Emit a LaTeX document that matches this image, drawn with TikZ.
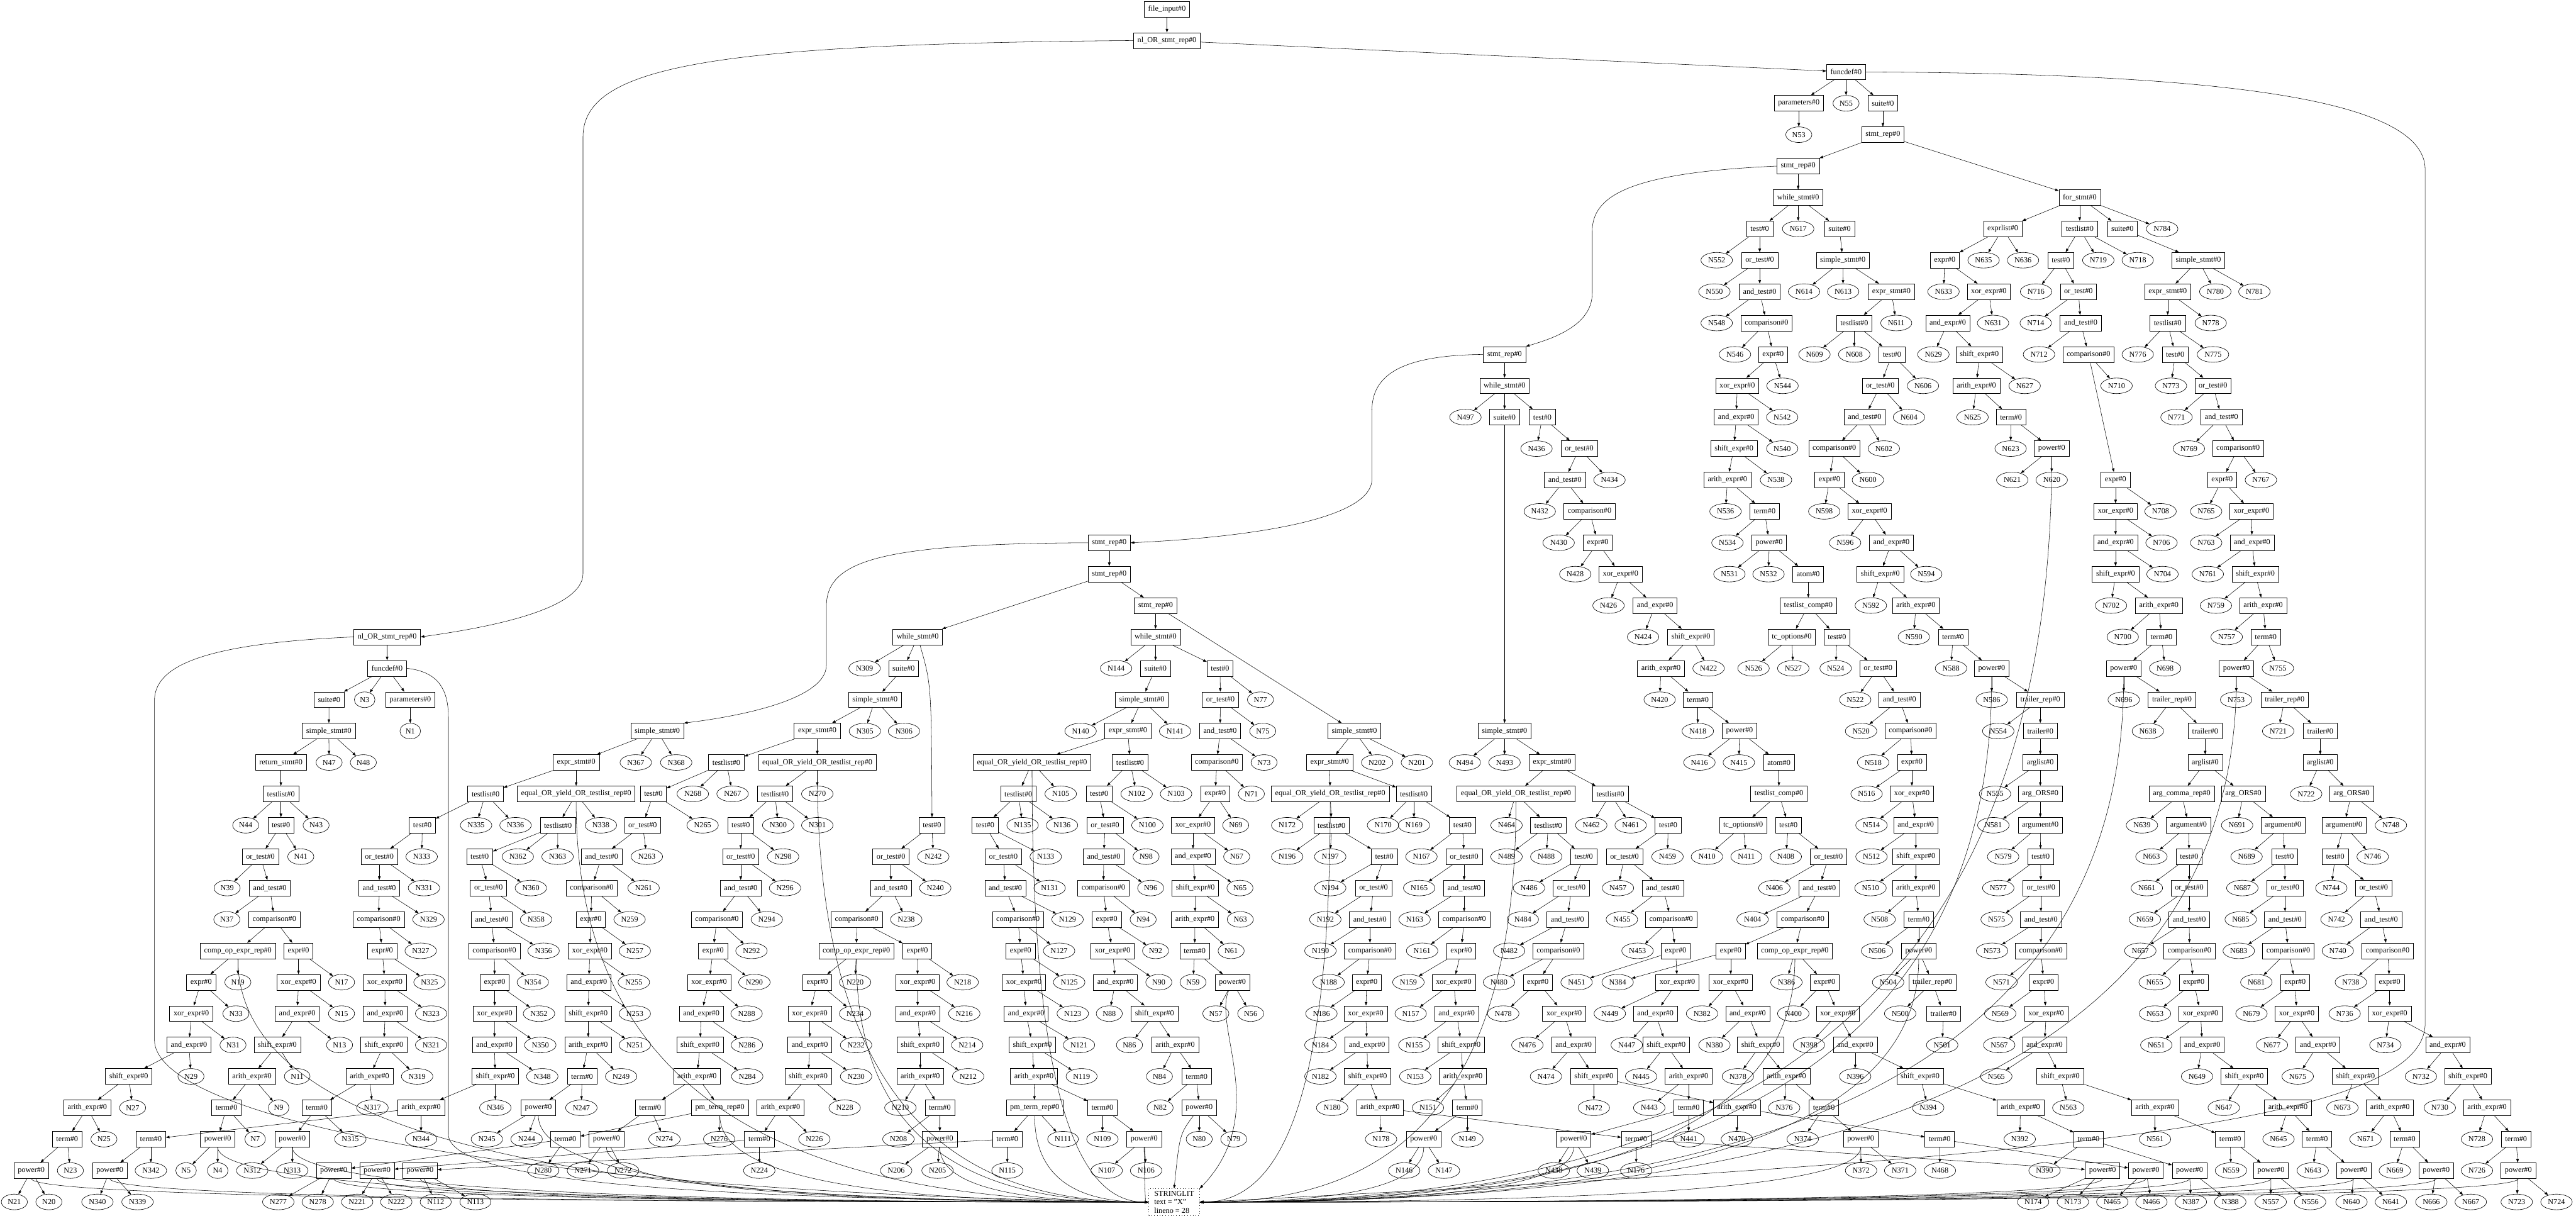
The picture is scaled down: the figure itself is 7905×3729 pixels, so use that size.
\documentclass[tikz,border=0pt]{standalone}
\usepackage{fontspec}
\setmainfont{Liberation Serif}
\usetikzlibrary{shapes.geometric,arrows.meta,calc}
\newcommand\treeFont{\fontsize{6.7}{7.4}\selectfont}
\newcommand\eqRep{equal\_OR\_yield\_OR\_testlist\_rep}
\tikzset{
  ruleBox/.style={draw, rectangle, line width=0.35pt, minimum height=0.48cm,
    inner xsep=0.12cm, inner ysep=0pt, font=\treeFont},
  tokLeaf/.style={draw, ellipse, line width=0.35pt, minimum height=0.48cm,
    inner xsep=0.08cm, inner ysep=0.02cm, font=\treeFont},
  litBox/.style={draw, rectangle, dotted, line width=0.4pt, align=left,
    inner xsep=0.17cm, inner ysep=0.07cm, font=\treeFont},
  treeEdge/.style={line width=0.3pt, -{Triangle[length=0.11cm,width=0.08cm]}}
}

\begin{document}
\begin{tikzpicture}[x=0.01cm,y=-0.01cm]
\useasboundingbox (0,0) rectangle (7905,3729);

% --- RULE NODES (name / x / rank / label) ---
\foreach \nm/\xx/\rr/\lb in {
  fileIn/3581/0/file\_input, nlA/3581/1/nl\_OR\_stmt\_rep, fdA/5665/2/funcdef,
  parA/5520/3/parameters, suiA/5778/3/suite, srA/5778/4/stmt\_rep, srB/5518/5/stmt\_rep,
  whA/5518/6/while\_stmt, forA/6382/6/for\_stmt,
  tsA/5400/7/test, suiB/5645/7/suite, exlA/6146/7/exprlist, tlB/6382/7/testlist, suiC/6513/7/suite,
  otA/5400/8/or\_test, ssA/5655/8/simple\_stmt, exE/5968/8/expr, tsE/6324/8/test, ssC/6746/8/simple\_stmt,
  atA/5400/9/and\_test, esA/5804/9/expr\_stmt, xoE/6103/9/xor\_expr, otE/6378/9/or\_test, esC/6652/9/expr\_stmt,
  cmA/5421/10/comparison, tlA/5690/10/testlist, anE/5977/10/and\_expr, atE/6385/10/and\_test, tlC/6652/10/testlist,
  srC/4617/11/stmt\_rep, exA/5441/11/expr, tsC/5806/11/test, shE/6074/11/shift\_expr, cmE/6409/11/comparison, tsG/6675/11/test,
  whB/4617/12/while\_stmt, xoA/5331/12/xor\_expr, otC/5770/12/or\_test, arE/6065/12/arith\_expr, otG/6791/12/or\_test,
  suiD/4617/13/suite, tsI/4733/13/test, anA/5328/13/and\_expr, atC/5722/13/and\_test, tmE/6171/13/term, atG/6817/13/and\_test,
  otI/4846/14/or\_test, shA/5321/14/shift\_expr, cmC/5629/14/comparison, pwE/6296/14/power, cmG/6868/14/comparison,
  atI/4802/15/and\_test, arA/5301/15/arith\_expr, exC/5614/15/expr, exF/6492/15/expr, exG/6819/15/expr,
  cmI/4878/16/comparison, tmA/5415/16/term, xoC/5737/16/xor\_expr, xoF/6492/16/xor\_expr, xoG/6909/16/xor\_expr,
  srD/3404/17/stmt\_rep, exI/4903/17/expr, pwA/5429/17/power, anC/5804/17/and\_expr, anF/6492/17/and\_expr, anG/6911/17/and\_expr,
  srE/3404/18/stmt\_rep, xoI/4973/18/xor\_expr, atmA/5549/18/atom, shC/5770/18/shift\_expr, shF/6492/18/shift\_expr, shG/6921/18/shift\_expr,
  srF/3546/19/stmt\_rep, anI/5079/19/and\_expr, tcA/5549/19/testlist\_comp, arC/5879/19/arith\_expr, arF/6625/19/arith\_expr, arG/6945/19/arith\_expr,
  nlB/1188/20/nl\_OR\_stmt\_rep, whC/2816/20/while\_stmt, whD/3546/20/while\_stmt, shI/5189/20/shift\_expr, tcoA/5498/20/tc\_options,
  tsB/5637/20/test, tmC/5993/20/term, tmF/6633/20/term, tmG/6953/20/term,
  fdB/1188/21/funcdef, suiF/2773/21/suite, suiG/3546/21/suite, tsU/3744/21/test, arI/5097/21/arith\_expr, otB/5763/21/or\_test,
  pwC/6112/21/power, pwF/6517/21/power, pwG/6863/21/power,
  suiE/1010/22/suite, parB/1259/22/parameters, ssH/2685/22/simple\_stmt, ssI/3504/22/simple\_stmt, otU/3745/22/or\_test,
  tmI/5210/22/term, atB/5829/22/and\_test, trrC/6261/22/trailer\_rep, trrF/6665/22/trailer\_rep, trrG/7011/22/trailer\_rep,
  ssF/1009/23/simple\_stmt, ssG/2017/23/simple\_stmt, esH/2508/23/expr\_stmt, esI/3461/23/expr\_stmt, atU/3744/23/and\_test,
  ssE/4156/23/simple\_stmt, ssD/4617/23/simple\_stmt, pwI/5338/23/power, cmB/5863/23/comparison, trC/6261/23/trailer,
  trF/6767/23/trailer, trG/7120/23/trailer,
  retA/862/24/return\_stmt, esG/1768/24/expr\_stmt, tlH/2229/24/testlist, eqH/2508/24/\eqRep, eqI/3167/24/\eqRep,
  tlI/3468/24/testlist, cmU/3734/24/comparison, esE/4080/24/expr\_stmt, esD/4763/24/expr\_stmt, atmI/5459/24/atom,
  exB/5867/24/expr, alC/6261/24/arglist, alF/6767/24/arglist, alG/7120/24/arglist,
  tlG/862/25/testlist, tlG2/1490/25/testlist, eqG/1768/25/\eqRep, tsH/2005/25/test, tlH2/2378/25/testlist,
  tlI2/3125/25/testlist, tsT/3373/25/test, exU/3729/25/expr, eqE/4082/25/\eqRep, tlF/4339/25/testlist,
  eqD/4652/25/\eqRep, tlD/4942/25/testlist, tcI/5459/25/testlist\_comp, xoB/5867/25/xor\_expr,
  aoC/6261/25/arg\_ORS, acF/6695/25/arg\_comma\_rep, aoF/6884/25/arg\_ORS, aoG/7216/25/arg\_ORS,
  tsN/862/26/test, tsP/1296/26/test, tlP/1712/26/testlist, otH/1972/26/or\_test, tsV/2273/26/test, tsR/2860/26/test,
  tsS/3023/26/test, otT/3391/26/or\_test, xoU/3661/26/xor\_expr, tlK/4086/26/testlist, tsW/4488/26/test,
  tlM/4751/26/testlist, tsL/5119/26/test, tcoI/5349/26/tc\_options, tsJ/5488/26/test, anB/5879/26/and\_expr,
  argC/6261/26/argument, argF1/6716/26/argument, argF2/7006/26/argument, argG/7193/26/argument,
  otN/799/27/or\_test, otP/1164/27/or\_test, tsQ/1472/27/test, atH/1846/27/and\_test, otV/2273/27/or\_test,
  otR/2734/27/or\_test, otS/3079/27/or\_test, atT/3387/27/and\_test, anU/3661/27/and\_expr, tsK/4248/27/test,
  otW/4493/27/or\_test, tsM/4860/27/test, otL/4985/27/or\_test, otJ/5611/27/or\_test, shB/5879/27/shift\_expr,
  tsD/6262/27/test, tsF1/6718/27/test, tsF2/7011/27/test, tsX/7166/27/test,
  atN/828/28/and\_test, atP/1164/28/and\_test, otQ/1499/28/or\_test, cmH/1816/28/comparison, atV/2273/28/and\_test,
  atR/2734/28/and\_test, atS/3085/28/and\_test, cmT/3386/28/comparison, shU/3668/28/shift\_expr, otK/4215/28/or\_test,
  atW/4493/28/and\_test, otM/4822/28/or\_test, atL/5103/28/and\_test, atJ/5583/28/and\_test, arB/5879/28/arith\_expr,
  otD/6263/28/or\_test, otF1/6718/28/or\_test, otF2/7012/28/or\_test, otX/7284/28/or\_test,
  cmN/842/29/comparison, cmP/1162/29/comparison, atQ/1509/29/and\_test, exH/1813/29/expr, cmV/2200/29/comparison,
  cmR/2629/29/comparison, cmS/3124/29/comparison, exT/3396/29/expr, arU/3667/29/arith\_expr, atK/4204/29/and\_test,
  cmW/4493/29/comparison, atM/4810/29/and\_test, cmL/5128/29/comparison, cmJ/5532/29/comparison, tmB/5888/29/term,
  atD/6263/29/and\_test, atF1/6718/29/and\_test, atF2/7012/29/and\_test, atX/7307/29/and\_test,
  coN/730/30/comp\_op\_expr\_rep, exN/916/30/expr, exP/1173/30/expr, cmQ/1517/30/comparison, xoH/1810/30/xor\_expr,
  exV/2188/30/expr, coR/2628/30/comp\_op\_expr\_rep, exR/2815/30/expr, exS/3132/30/expr, xoT/3414/30/xor\_expr,
  tmU/3666/30/term, cmK/4204/30/comparison, exW/4484/30/expr, cmM/4782/30/comparison, exL/5142/30/expr,
  exJ/5311/30/expr, coJ/5508/30/comp\_op\_expr\_rep, pwB/5888/30/power, cmD/6263/30/comparison,
  cmF1/6719/30/comparison, cmF2/7022/30/comparison, cmX/7327/30/comparison,
  exN2/617/31/expr, xoN/916/31/xor\_expr, xoP/1181/31/xor\_expr, exQ/1518/31/expr, anH/1807/31/and\_expr,
  xoV/2176/31/xor\_expr, exR2/2508/31/expr, xoR/2816/31/xor\_expr, xoS/3142/31/xor\_expr, anT/3423/31/and\_expr,
  pwU/3782/31/power, exK/4194/31/expr, xoW/4461/31/xor\_expr, exM/4719/31/expr, xoL/5147/31/xor\_expr,
  xoJ/5311/31/xor\_expr, exJ2/5599/31/expr, trrB/5930/31/trailer\_rep, exD/6271/31/expr, exF1/6732/31/expr,
  exF2/7043/31/expr, exX/7333/31/expr,
  xoN2/587/32/xor\_expr, anN/912/32/and\_expr, anP/1182/32/and\_expr, xoQ/1518/32/xor\_expr, shH/1805/32/shift\_expr,
  anV/2152/32/and\_expr, xoR2/2485/32/xor\_expr, anR/2816/32/and\_expr, anS/3149/32/and\_expr, shT/3543/32/shift\_expr,
  xoK/4191/32/xor\_expr, anW/4470/32/and\_expr, xoM/4800/32/xor\_expr, anL/5080/32/and\_expr, anJ/5363/32/and\_expr,
  xoJ2/5640/32/xor\_expr, trB/5964/32/trailer, xoD/6279/32/xor\_expr, xoF1/6753/32/xor\_expr, xoF2/7048/32/xor\_expr,
  xoX/7333/32/xor\_expr,
  anN2/580/33/and\_expr, shN/851/33/shift\_expr, shP/1178/33/shift\_expr, anQ/1517/33/and\_expr, arH/1805/33/arith\_expr,
  shV/2148/33/shift\_expr, anR2/2485/33/and\_expr, shR/2824/33/shift\_expr, shS/3168/33/shift\_expr, arT/3606/33/arith\_expr,
  anK/4195/33/and\_expr, shW/4484/33/shift\_expr, anM/4829/33/and\_expr, shL/5113/33/shift\_expr, shJ/5403/33/shift\_expr,
  anJ2/5693/33/and\_expr, anD/6274/33/and\_expr, anF1/6758/33/and\_expr, anF2/7113/33/and\_expr, anX/7511/33/and\_expr,
  shN2/395/34/shift\_expr, arN/773/34/arith\_expr, arP/1134/34/arith\_expr, shQ/1520/34/shift\_expr, tmH/1786/34/term,
  arV/2139/34/arith\_expr, shR2/2480/34/shift\_expr, arR/2824/34/arith\_expr, arS/3173/34/arith\_expr, tmT/3672/34/term,
  shK/4197/34/shift\_expr, arW/4489/34/arith\_expr, shM/4891/34/shift\_expr, arL/5182/34/arith\_expr, arJ/5482/34/arith\_expr,
  shJ2/5892/34/shift\_expr, shD/6322/34/shift\_expr, shF1/6887/34/shift\_expr, shF2/7228/34/shift\_expr, shX/7573/34/shift\_expr,
  arN2/268/35/arith\_expr, tmN/695/35/term, tmP/972/35/term, arQ/1292/35/arith\_expr, pwH/1652/35/power,
  tmV/1995/35/term, ptV/2209/35/pm\_term\_rep, arR2/2395/35/arith\_expr, tmR/2884/35/term, ptS/3175/35/pm\_term\_rep,
  tmS/3383/35/term, pwT/3680/35/power, arK/4235/35/arith\_expr, tmW/4503/35/term, tmL/5182/35/term,
  arM/5330/35/arith\_expr, tmJ/5597/35/term, arJ2/6200/35/arith\_expr, arD/6613/35/arith\_expr, arF1/7021/35/arith\_expr,
  arF2/7334/35/arith\_expr, arX/7632/35/arith\_expr,
  tmN2/206/36/term, tmQ/463/36/term, pwN/668/36/power, pwP/897/36/power, tmV2/1735/36/term, pwV/1861/36/power,
  tmR2/2330/36/term, pwR/2884/36/power, tmS2/3091/36/term, pwS/3511/36/power, pwW/4369/36/power, tmK/5021/36/term,
  pwL/4829/36/power, pwJ/5710/36/power, tmM/5952/36/term, tmJ2/6409/36/term, tmD/6844/36/term, tmF1/7110/36/term,
  tmF2/7379/36/term, tmX/7721/36/term,
  pwN2/96/37/power, pwQ/337/37/power, pwV2/1024/37/power, pwR2/1157/37/power, pwS2/1289/37/power,
  pwK/6452/37/power, pwM/6585/37/power, pwJ2/6719/37/power, pwD/6969/37/power, pwF1/7223/37/power,
  pwF2/7476/37/power, pwX/7728/37/power} {
  \pgfmathsetmacro\yy{28+96.3*\rr}
  \node[ruleBox] (\nm) at (\xx,\yy) {\lb\#0};
}

% --- TOKEN LEAVES (number / x / rank) ---
\foreach \nn/\xx/\rr in {
  55/5665/3, 53/5520/4, 617/5518/7, 784/6635/7,
  552/5268/8, 635/6087/8, 636/6208/8, 719/6439/8, 718/6560/8,
  550/5261/9, 614/5536/9, 613/5656/9, 633/5964/9, 716/6248/9, 780/6798/9, 781/6918/9,
  548/5268/10, 611/5819/10, 631/6116/10, 714/6247/10, 778/6784/10,
  546/5324/11, 609/5568/11, 608/5690/11, 629/5933/11, 712/6257/11, 776/6560/11, 775/6791/11,
  544/5470/12, 606/5901/12, 627/6213/12, 710/6495/12, 773/6662/12,
  497/4497/13, 542/5469/13, 604/5858/13, 625/6053/13, 771/6679/13,
  436/4715/14, 540/5469/14, 602/5781/14, 623/6170/14, 769/6717/14,
  434/4939/15, 538/5450/15, 600/5732/15, 621/6175/15, 620/6296/15, 767/6938/15,
  432/4725/16, 536/5295/16, 598/5598/16, 708/6630/16, 765/6770/16,
  430/4783/17, 534/5301/17, 596/5662/17, 706/6633/17, 763/6770/17,
  428/4834/18, 531/5307/18, 532/5427/18, 594/5911/18, 704/6636/18, 761/6775/18,
  426/4936/19, 592/5741/19, 702/6478/19, 759/6800/19,
  424/5042/20, 590/5873/20, 700/6514/20, 757/6833/20,
  309/2653/21, 144/3425/21, 422/5243/21, 526/5381/21, 527/5503/21, 524/5633/21, 588/5987/21, 698/6644/21, 755/6990/21,
  3/1119/22, 77/3868/22, 420/5093/22, 522/5693/22, 586/6112/22, 696/6517/22, 753/6862/22,
  1/1259/23, 305/2654/23, 306/2774/23, 140/3316/23, 141/3606/23, 75/3875/23, 418/5210/23, 520/5711/23,
  554/6132/23, 638/6591/23, 721/6991/23,
  47/1010/24, 48/1115/24, 367/1951/24, 368/2075/24, 73/3879/24, 202/4226/24, 201/4348/24, 494/4495/24,
  493/4617/24, 416/5215/24, 415/5336/24, 518/5748/24,
  268/2126/25, 267/2248/25, 270/2508/25, 105/3255/25, 102/3488/25, 103/3609/25, 71/3840/25, 516/5728/25,
  555/6122/25, 722/7077/25,
  44/754/26, 43/970/26, 335/1461/26, 336/1582/26, 338/1844/26, 265/2156/26, 300/2388/26, 301/2508/26,
  135/3138/26, 136/3259/26, 100/3521/26, 69/3792/26, 172/3950/26, 170/4244/26, 169/4339/26, 464/4623/26,
  462/4883/26, 461/5004/26, 514/5743/26, 581/6117/26, 639/6573/26, 691/6865/26, 748/7337/26,
  41/923/27, 333/1294/27, 362/1589/27, 363/1711/27, 263/1985/27, 298/2403/27, 242/2864/27, 133/3209/27,
  98/3517/27, 67/3795/27, 196/3950/27, 197/4082/27, 167/4362/27, 489/4623/27, 488/4745/27, 459/5117/27,
  410/5238/27, 411/5359/27, 408/5480/27, 512/5743/27, 579/6147/27, 663/6602/27, 689/6894/27, 746/7281/27,
  39/697/28, 331/1301/28, 360/1629/28, 261/1975/28, 296/2409/28, 240/2870/28, 131/3221/28, 96/3531/28,
  65/3805/28, 194/4082/28, 165/4355/28, 486/4692/28, 457/4965/28, 406/5445/28, 510/5740/28, 577/6132/28,
  661/6588/28, 687/6881/28, 744/7154/28,
  37/696/29, 329/1315/29, 358/1645/29, 259/1932/29, 294/2353/29, 238/2781/29, 129/3276/29, 94/3508/29,
  63/3806/29, 192/4067/29, 163/4341/29, 484/4673/29, 455/4977/29, 404/5378/29, 508/5768/29, 575/6127/29,
  659/6582/29, 685/6876/29, 742/7170/29,
  327/1291/30, 356/1668/30, 257/1948/30, 292/2306/30, 127/3250/30, 92/3546/30, 61/3778/30, 190/4052/30,
  161/4364/30, 482/4631/30, 453/5025/30, 506/5760/30, 573/6113/30, 657/6568/30, 683/6870/30, 740/7174/30,
  19/730/31, 17/1048/31, 325/1318/31, 354/1635/31, 255/1945/31, 290/2315/31, 220/2624/31, 218/2954/31,
  125/3281/31, 90/3556/31, 59/3661/31, 188/4077/31, 159/4322/31, 480/4600/31, 451/4838/31, 384/4964/31,
  386/5482/31, 504/5794/31, 571/6142/31, 655/6612/31, 681/6924/31, 738/7214/31,
  33/724/32, 15/1048/32, 323/1323/32, 352/1654/32, 253/1948/32, 288/2291/32, 234/2624/32, 216/2959/32,
  123/3292/32, 88/3404/32, 57/3731/32, 56/3838/32, 186/4055/32, 157/4329/32, 478/4613/32, 449/4940/32,
  382/5223/32, 400/5503/32, 500/5831/32, 569/6138/32, 653/6613/32, 679/6909/32, 736/7195/32,
  31/715/33, 13/1042/33, 321/1323/33, 350/1658/33, 251/1948/33, 286/2292/33, 232/2627/33, 214/2968/33,
  121/3311/33, 86/3466/33, 184/4052/33, 155/4340/33, 476/4687/33, 447/4992/33, 380/5261/33, 398/5551/33,
  501/5960/33, 567/6135/33, 651/6617/33, 677/6972/33, 734/7320/33,
  29/586/34, 11/912/34, 319/1280/34, 348/1664/34, 249/1906/34, 284/2293/34, 230/2627/34, 212/2971/34,
  119/3319/34, 84/3558/34, 182/4052/34, 153/4343/34, 474/4744/34, 445/5036/34, 378/5333/34, 396/5693/34,
  565/6126/34, 649/6742/34, 675/7051/34, 732/7429/34,
  27/407/35, 9/855/35, 317/1143/35, 346/1520/35, 247/1784/35, 228/2592/35, 210/2763/35, 82/3560/35,
  180/4088/35, 151/4382/35, 472/4891/35, 443/5061/35, 376/5475/35, 394/5917/35, 563/6347/35, 647/6824/35,
  673/7188/35, 730/7487/35,
  25/319/36, 7/783/36, 315/1075/36, 344/1292/36, 245/1494/36, 244/1616/36, 274/2039/36, 276/2207/36,
  226/2499/36, 208/2757/36, 111/3262/36, 109/3383/36, 80/3680/36, 79/3786/36, 178/4238/36, 149/4503/36,
  441/5182/36, 470/5330/36, 374/5532/36, 392/6198/36, 561/6613/36, 645/6992/36, 671/7259/36, 728/7601/36,
  23/216/37, 342/463/37, 5/571/37, 4/668/37, 312/774/37, 313/897/37, 280/1667/37, 271/1789/37, 272/1912/37,
  224/2330/37, 206/2750/37, 205/2877/37, 115/3091/37, 107/3396/37, 106/3517/37, 146/4309/37, 147/4431/37,
  438/4768/37, 439/4888/37, 176/5021/37, 372/5711/37, 371/5831/37, 468/5953/37, 390/6274/37, 559/6846/37,
  643/7097/37, 669/7349/37, 726/7601/37,
  21/44/38, 20/150/38, 340/299/38, 339/422/38, 277/854/38, 278/975/38, 221/1096/38, 222/1216/38,
  112/1337/38, 113/1459/38, 174/6239/38, 173/6361/38, 465/6482/38, 466/6602/38, 387/6723/38, 388/6844/38,
  557/6968/38, 556/7089/38, 640/7216/38, 641/7337/38, 666/7461/38, 667/7582/38, 723/7723/38, 724/7845/38} {
  \pgfmathsetmacro\yy{28+96.3*\rr}
  \node[tokLeaf] (n\nn) at (\xx,\yy) {N\nn};
}

% --- SHARED LITERAL ---
\node[litBox] (STR) at (3603,3688) {STRINGLIT\\text = "X"\\lineno = 28};

% --- TREE EDGES ---
\foreach \pa/\ch in {
  fileIn/nlA, nlA/fdA, fdA/parA, fdA/n55, fdA/suiA, parA/n53, suiA/srA, srA/srB, srA/forA, srB/whA,
  whA/tsA, whA/n617, whA/suiB,
  tsA/n552, tsA/otA, otA/n550, otA/atA, atA/n548, atA/cmA, cmA/n546, cmA/exA, exA/xoA, exA/n544,
  xoA/anA, xoA/n542, anA/shA, anA/n540, shA/arA, shA/n538, arA/n536, arA/tmA, tmA/n534, tmA/pwA,
  pwA/n531, pwA/n532, pwA/atmA, atmA/tcA, tcA/tcoA, tcA/tsB, tcoA/n526, tcoA/n527, tsB/n524, tsB/otB,
  otB/n522, otB/atB, atB/n520, atB/cmB, cmB/n518, cmB/exB, exB/n516, exB/xoB, xoB/n514, xoB/anB,
  anB/n512, anB/shB, shB/n510, shB/arB, arB/n508, arB/tmB, tmB/n506, tmB/pwB, pwB/n504, pwB/trrB,
  trrB/n500, trrB/trB, trB/n501,
  suiB/ssA, ssA/n614, ssA/n613, ssA/esA, esA/tlA, esA/n611, tlA/n609, tlA/n608, tlA/tsC, tsC/otC, tsC/n606,
  otC/atC, otC/n604, atC/cmC, atC/n602, cmC/exC, cmC/n600, exC/n598, exC/xoC, xoC/n596, xoC/anC,
  anC/shC, anC/n594, shC/n592, shC/arC, arC/n590, arC/tmC, tmC/n588, tmC/pwC, pwC/n586, pwC/trrC,
  trrC/n554, trrC/trC, trC/alC, alC/n555, alC/aoC, aoC/n581, aoC/argC, argC/n579, argC/tsD,
  tsD/n577, tsD/otD, otD/n575, otD/atD, atD/n573, atD/cmD, cmD/n571, cmD/exD, exD/n569, exD/xoD,
  xoD/n567, xoD/anD, anD/n565, anD/shD, shD/n563, shD/arD, arD/n561, arD/tmD, tmD/n559, tmD/pwD,
  pwD/n557, pwD/n556,
  forA/exlA, forA/tlB, forA/suiC, forA/n784, exlA/exE, exlA/n635, exlA/n636, exE/n633, exE/xoE,
  xoE/anE, xoE/n631, anE/n629, anE/shE, shE/arE, shE/n627, arE/n625, arE/tmE, tmE/n623, tmE/pwE,
  pwE/n621, pwE/n620,
  tlB/tsE, tlB/n719, tlB/n718, tsE/n716, tsE/otE, otE/n714, otE/atE, atE/n712, atE/cmE, cmE/exF, cmE/n710,
  exF/xoF, exF/n708, xoF/anF, xoF/n706, anF/shF, anF/n704, shF/n702, shF/arF, arF/n700, arF/tmF,
  tmF/pwF, tmF/n698, pwF/n696, pwF/trrF, trrF/n638, trrF/trF, trF/alF, alF/acF, alF/aoF,
  acF/n639, acF/argF1, aoF/n691, aoF/argF2,
  argF1/n663, argF1/tsF1, tsF1/n661, tsF1/otF1, otF1/n659, otF1/atF1, atF1/n657, atF1/cmF1,
  cmF1/n655, cmF1/exF1, exF1/n653, exF1/xoF1, xoF1/n651, xoF1/anF1, anF1/n649, anF1/shF1,
  shF1/n647, shF1/arF1, arF1/n645, arF1/tmF1, tmF1/n643, tmF1/pwF1, pwF1/n640, pwF1/n641,
  argF2/n689, argF2/tsF2, tsF2/n687, tsF2/otF2, otF2/n685, otF2/atF2, atF2/n683, atF2/cmF2,
  cmF2/n681, cmF2/exF2, exF2/n679, exF2/xoF2, xoF2/n677, xoF2/anF2, anF2/n675, anF2/shF2,
  shF2/n673, shF2/arF2, arF2/n671, arF2/tmF2, tmF2/n669, tmF2/pwF2, pwF2/n666, pwF2/n667,
  suiC/ssC, ssC/esC, ssC/n780, ssC/n781, esC/tlC, esC/n778, tlC/n776, tlC/tsG, tlC/n775, tsG/n773, tsG/otG,
  otG/n771, otG/atG, atG/n769, atG/cmG, cmG/exG, cmG/n767, exG/n765, exG/xoG, xoG/n763, xoG/anG,
  anG/n761, anG/shG, shG/n759, shG/arG, arG/n757, arG/tmG, tmG/pwG, tmG/n755, pwG/n753, pwG/trrG,
  trrG/n721, trrG/trG, trG/alG, alG/n722, alG/aoG, aoG/argG, aoG/n748, argG/tsX, argG/n746,
  tsX/n744, tsX/otX, otX/n742, otX/atX, atX/n740, atX/cmX, cmX/n738, cmX/exX, exX/n736, exX/xoX,
  xoX/n734, xoX/anX, anX/n732, anX/shX, shX/n730, shX/arX, arX/n728, arX/tmX, tmX/n726, tmX/pwX,
  pwX/n723, pwX/n724,
  srC/whB, whB/n497, whB/suiD, whB/tsI, tsI/n436, tsI/otI, otI/atI, otI/n434, atI/n432, atI/cmI,
  cmI/n430, cmI/exI, exI/n428, exI/xoI, xoI/n426, xoI/anI, anI/n424, anI/shI, shI/arI, shI/n422,
  arI/n420, arI/tmI, tmI/n418, tmI/pwI, pwI/n416, pwI/n415, pwI/atmI, atmI/tcI, tcI/tcoI, tcI/tsJ,
  tcoI/n410, tcoI/n411, tsJ/n408, tsJ/otJ, otJ/n406, otJ/atJ, atJ/n404, atJ/cmJ, cmJ/exJ, cmJ/coJ,
  exJ/n384, exJ/xoJ, xoJ/n382, xoJ/anJ, anJ/n380, anJ/shJ, shJ/n378, shJ/arJ, arJ/n376, arJ/tmJ,
  tmJ/n374, tmJ/pwJ, pwJ/n372, pwJ/n371, coJ/n386, coJ/exJ2, exJ2/n400, exJ2/xoJ2, xoJ2/n398, xoJ2/anJ2,
  anJ2/n396, anJ2/shJ2, shJ2/n394, shJ2/arJ2, arJ2/n392, arJ2/tmJ2, tmJ2/n390, tmJ2/pwJ2, pwJ2/n387, pwJ2/n388,
  suiD/ssD, ssD/n494, ssD/n493, ssD/esD, esD/eqD, esD/tlD, eqD/n464, eqD/tlM, tlM/n489, tlM/n488, tlM/tsM,
  tsM/n486, tsM/otM, otM/n484, otM/atM, atM/n482, atM/cmM, cmM/n480, cmM/exM, exM/n478, exM/xoM,
  xoM/n476, xoM/anM, anM/n474, anM/shM, shM/n472, shM/arM, arM/n470, arM/tmM, tmM/n468, tmM/pwM,
  pwM/n465, pwM/n466,
  tlD/n462, tlD/n461, tlD/tsL, tsL/otL, tsL/n459, otL/n457, otL/atL, atL/n455, atL/cmL, cmL/n453, cmL/exL,
  exL/n451, exL/xoL, xoL/n449, xoL/anL, anL/n447, anL/shL, shL/n445, shL/arL, arL/n443, arL/tmL,
  tmL/n441, tmL/pwL, pwL/n438, pwL/n439,
  srD/srE, srE/whC, srE/srF, srF/whD, srF/ssE, whC/n309, whC/suiF, suiF/ssH, ssH/esH, ssH/n305, ssH/n306,
  esH/tlH, esH/eqH, tlH/tsH, tlH/n268, tlH/n267, eqH/tlH2, eqH/n270, tsH/otH, tsH/n265, otH/atH, otH/n263,
  atH/cmH, atH/n261, cmH/exH, cmH/n259, exH/xoH, exH/n257, xoH/anH, xoH/n255, anH/shH, anH/n253,
  shH/arH, shH/n251, arH/tmH, arH/n249, tmH/pwH, tmH/n247, pwH/n245, pwH/n244,
  tlH2/tsV, tlH2/n300, tlH2/n301, tsV/otV, tsV/n298, otV/atV, otV/n296, atV/cmV, atV/n294, cmV/exV, cmV/n292,
  exV/xoV, exV/n290, xoV/anV, xoV/n288, anV/shV, anV/n286, shV/arV, shV/n284, arV/tmV, arV/ptV,
  tmV/pwV, tmV/n274, pwV/n271, pwV/n272, ptV/tmV2, ptV/n276, tmV2/n280, tmV2/pwV2, pwV2/n277, pwV2/n278,
  tsR/otR, tsR/n242, otR/atR, otR/n240, atR/cmR, atR/n238, cmR/coR, cmR/exR, coR/exR2, coR/n220,
  exR2/xoR2, exR2/n234, xoR2/anR2, xoR2/n232, anR2/shR2, anR2/n230, shR2/arR2, shR2/n228, arR2/tmR2, arR2/n226,
  tmR2/pwR2, tmR2/n224, pwR2/n221, pwR2/n222, exR/xoR, exR/n218, xoR/anR, xoR/n216, anR/shR, anR/n214,
  shR/arR, shR/n212, arR/n210, arR/tmR, tmR/n208, tmR/pwR, pwR/n206, pwR/n205,
  whD/n144, whD/suiG, whD/tsU, suiG/ssI, ssI/n140, ssI/esI, ssI/n141, esI/eqI, esI/tlI, eqI/tlI2, eqI/n105,
  tlI2/tsS, tlI2/n135, tlI2/n136, tsS/otS, tsS/n133, otS/atS, otS/n131, atS/cmS, atS/n129, cmS/exS, cmS/n127,
  exS/xoS, exS/n125, xoS/anS, xoS/n123, anS/shS, anS/n121, shS/arS, shS/n119, arS/ptS, arS/tmS,
  ptS/tmS2, ptS/n111, tmS2/n115, tmS2/pwS2, pwS2/n112, pwS2/n113, tmS/n109, tmS/pwS, pwS/n107, pwS/n106,
  tlI/tsT, tlI/n102, tlI/n103, tsT/otT, tsT/n100, otT/atT, otT/n98, atT/cmT, atT/n96, cmT/exT, cmT/n94,
  exT/xoT, exT/n92, xoT/anT, xoT/n90, anT/n88, anT/shT, shT/n86, shT/arT, arT/n84, arT/tmT, tmT/n82, tmT/pwT,
  pwT/n80, pwT/n79,
  tsU/otU, tsU/n77, otU/atU, otU/n75, atU/cmU, atU/n73, cmU/exU, cmU/n71, exU/xoU, exU/n69, xoU/anU, xoU/n67,
  anU/shU, anU/n65, shU/arU, shU/n63, arU/tmU, arU/n61, tmU/n59, tmU/pwU, pwU/n57, pwU/n56,
  ssE/esE, ssE/n202, ssE/n201, esE/eqE, esE/tlF, eqE/n172, eqE/tlK, tlK/n196, tlK/n197, tlK/tsK,
  tsK/n194, tsK/otK, otK/n192, otK/atK, atK/n190, atK/cmK, cmK/n188, cmK/exK, exK/n186, exK/xoK,
  xoK/n184, xoK/anK, anK/n182, anK/shK, shK/n180, shK/arK, arK/n178, arK/tmK, tmK/n176, tmK/pwK,
  pwK/n174, pwK/n173,
  tlF/n170, tlF/n169, tlF/tsW, tsW/n167, tsW/otW, otW/n165, otW/atW, atW/n163, atW/cmW, cmW/n161, cmW/exW,
  exW/n159, exW/xoW, xoW/n157, xoW/anW, anW/n155, anW/shW, shW/n153, shW/arW, arW/n151, arW/tmW,
  tmW/pwW, tmW/n149, pwW/n146, pwW/n147,
  nlB/fdB, fdB/suiE, fdB/n3, fdB/parB, parB/n1, suiE/ssF, ssF/retA, ssF/n47, ssF/n48, retA/tlG,
  tlG/n44, tlG/tsN, tlG/n43, tsN/otN, tsN/n41, otN/n39, otN/atN, atN/n37, atN/cmN, cmN/coN, cmN/exN,
  coN/exN2, coN/n19, exN2/xoN2, exN2/n33, xoN2/anN2, xoN2/n31, anN2/shN2, anN2/n29, shN2/arN2, shN2/n27,
  arN2/tmN2, arN2/n25, tmN2/pwN2, tmN2/n23, pwN2/n21, pwN2/n20, exN/xoN, exN/n17, xoN/anN, xoN/n15,
  anN/shN, anN/n13, shN/arN, shN/n11, arN/tmN, arN/n9, tmN/pwN, tmN/n7, pwN/n5, pwN/n4,
  ssG/esG, ssG/n367, ssG/n368, esG/tlG2, esG/eqG, tlG2/tsP, tlG2/n335, tlG2/n336, eqG/tlP, eqG/n338,
  tsP/otP, tsP/n333, otP/atP, otP/n331, atP/cmP, atP/n329, cmP/exP, cmP/n327, exP/xoP, exP/n325,
  xoP/anP, xoP/n323, anP/shP, anP/n321, shP/arP, shP/n319, arP/tmP, arP/n317, tmP/pwP, tmP/n315,
  pwP/n312, pwP/n313, tlP/tsQ, tlP/n362, tlP/n363, tsQ/otQ, tsQ/n360, otQ/atQ, otQ/n358, atQ/cmQ, atQ/n356,
  cmQ/exQ, cmQ/n354, exQ/xoQ, exQ/n352, xoQ/anQ, xoQ/n350, anQ/shQ, anQ/n348, shQ/arQ, shQ/n346,
  arQ/tmQ, arQ/n344, tmQ/pwQ, tmQ/n342, pwQ/n340, pwQ/n339}
  \draw[treeEdge] (\pa) -- (\ch);

% --- LONG EDGES ---
\draw[treeEdge] (nlA.west) .. controls (2200,135) and (1789,200) .. (1789,420)
  -- (1789,1760) .. controls (1789,1870) and (1500,1925) .. (nlB.east);
\draw[treeEdge] (srB.west) .. controls (5000,530) and (4886,600) .. (4886,710)
  -- (4886,900) .. controls (4886,1000) and (4760,1040) .. (srC.north east);
\draw[treeEdge] (srC.west) .. controls (4300,1090) and (4210,1150) .. (4210,1260)
  -- (4210,1470) .. controls (4210,1600) and (3800,1650) .. (srD.east);
\draw[treeEdge] (srD.west) .. controls (2700,1668) and (2536,1720) .. (2536,1860)
  -- (2536,2040) .. controls (2536,2150) and (2250,2200) .. (ssG.north east);
\draw[treeEdge] (whC) .. controls (2858,2100) .. (tsR.north);

% --- EDGES INTO STRINGLIT ---
\draw[treeEdge] (nlB.west) .. controls (600,1975) and (474,2050) .. (474,2150)
  -- (474,3190) .. controls (474,3430) and (1600,3660) .. (STR.west);
\draw[treeEdge] (fdB.east) .. controls (1340,2060) and (1376,2110) .. (1376,2200)
  -- (1376,3480) .. controls (1376,3640) and (2300,3680) .. (STR.west);
\draw[treeEdge] (fdA.east) .. controls (6800,226) and (7442,300) .. (7442,520)
  -- (7442,3140) .. controls (7442,3460) and (6200,3560) .. (STR.east);
\draw[treeEdge] (pwT) .. controls (3620,3480) .. (STR.north);
\draw[treeEdge] (pwU) .. controls (3720,3150) and (3900,3420) .. (STR.north east);
\foreach \src in {coN, coR, eqG, eqH, eqI, ptS, ptV, pwN2, pwQ, pwN, pwP, pwV2, pwR2, pwS2,
    pwH, pwV, pwR, pwS}
  \draw[treeEdge] (\src) .. controls ($(\src)!0.85!(\src|-STR.west)$)
    and ($(STR.west)!0.5!(\src|-STR.west)$) .. (STR.west);
\foreach \src in {eqE, eqD, coJ, pwW, pwL, pwJ, pwB, pwK, pwM, pwJ2, pwD, pwF1, pwF2, pwX,
    pwE, pwC, pwF, pwG}
  \draw[treeEdge] (\src) .. controls ($(\src)!0.85!(\src|-STR.east)$)
    and ($(STR.east)!0.5!(\src|-STR.east)$) .. (STR.east);

\end{tikzpicture}
\end{document}
